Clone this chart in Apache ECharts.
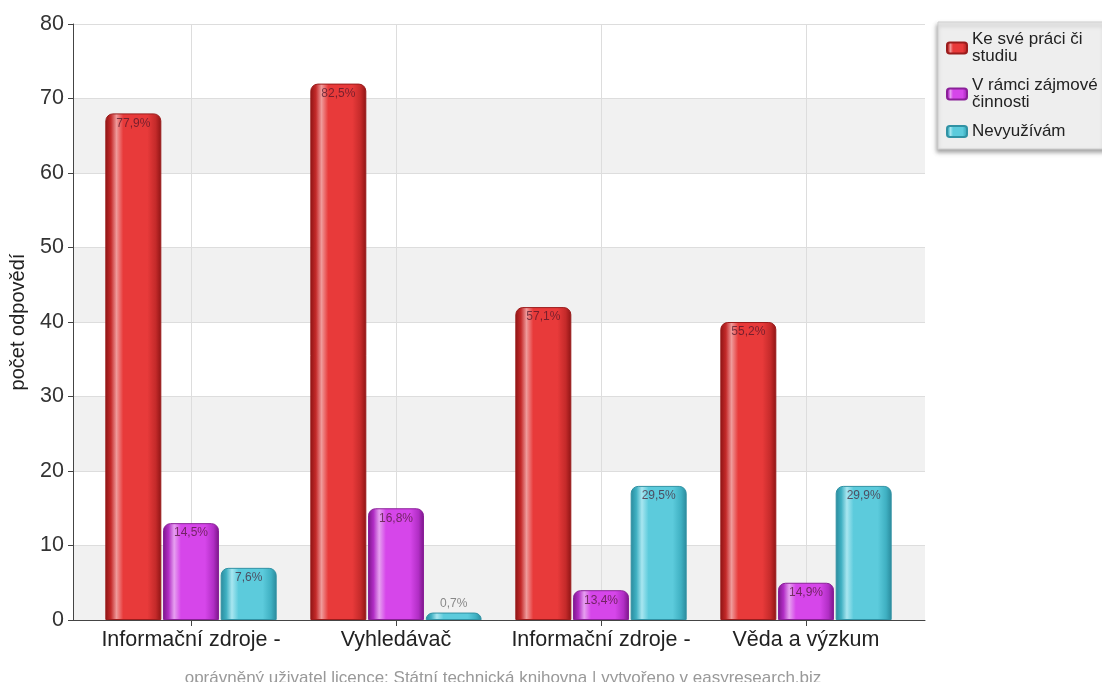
<!DOCTYPE html>
<html>
<head>
<meta charset="utf-8">
<script src="https://cdn.jsdelivr.net/npm/echarts@6/dist/echarts.min.js"></script>
<style>
  html, body { margin: 0; padding: 0; background: #fff; }
  #chart { width: 1102px; height: 682px; }
</style>
</head>
<body>
<div id="chart"></div>
<script>
  // hodnoty
  var categories = ['Informační zdroje -', 'Vyhledávač', 'Informační zdroje -', 'Věda a výzkum']
  var seriesNames = ['Ke své práci či studiu', 'V rámci zájmové činnosti', 'Nevyužívám']
  var valuesWork = [68, 72, 42, 40]
  var valuesHobby = [13, 15, 4, 5]
  var valuesNone = [7, 1, 18, 18]
  var pctWork = [77.9, 82.5, 57.1, 55.2]
  var pctHobby = [14.5, 16.8, 13.4, 14.9]
  var pctNone = [7.6, 0.7, 29.5, 29.9]
  var yTicks = [0, 10, 20, 30, 40, 50, 60, 70, 80]

  var font = 'Liberation Sans, Arial, sans-serif'

  function cylinder (edge, light, main, mid) {
    return new echarts.graphic.LinearGradient(0, 0, 1, 0, [
      {offset: 0, color: edge},
      {offset: 0.1, color: mid},
      {offset: 0.2, color: light},
      {offset: 0.32, color: main},
      {offset: 0.75, color: main},
      {offset: 0.9, color: mid},
      {offset: 1, color: edge}
    ])
  }

  var styles = [
    cylinder('#8e1414', '#ef9a9a', '#e83a3a', '#c42a2a'),
    cylinder('#7a1688', '#e6a0f0', '#d646ea', '#b22ec6'),
    cylinder('#2a8a9c', '#a8e6f0', '#5ccbdc', '#3fb0c2')
  ]
  var borders = ['#9a1c1c', '#8a2098', '#3192a4']

  function buildData (values, pcts) {
    return values.map(function (v, i) {
      var item = {value: v, pct: pcts[i]}
      if (v < 3) {
        item.label = {position: 'top', distance: 3, color: '#888'}
      }
      return item
    })
  }

  function barSeries (idx, values, pcts) {
    return {
      name: seriesNames[idx],
      type: 'bar',
      xAxisIndex: 1,
      yAxisIndex: 1,
      barWidth: 56,
      barGap: '3%',
      z: 3,
      itemStyle: {
        color: styles[idx],
        borderColor: borders[idx],
        borderWidth: 1,
        borderRadius: [7, 7, 0, 0]
      },
      label: {
        show: true,
        position: 'insideTop',
        distance: 4,
        fontFamily: font,
        fontSize: 12,
        color: 'rgba(70,20,40,0.7)',
        formatter: function (p) {
          return p.data.pct.toFixed(1).replace('.', ',') + '%'
        }
      },
      data: buildData(values, pcts)
    }
  }

  var chart = echarts.init(document.getElementById('chart'))
  var option = {
    animation: false,
    backgroundColor: '#fff',
    title: {
      text: 'oprávněný uživatel licence: Státní technická knihovna | vytvořeno v easyresearch.biz',
      left: 498,
      textAlign: 'center',
      top: 665,
      textStyle: {fontFamily: font, fontSize: 17, fontWeight: 'normal', color: '#999'}
    },
    legend: {
      orient: 'vertical',
      left: 938,
      top: 22,
      padding: [9, 8, 9, 8],
      itemWidth: 20,
      itemHeight: 11,
      itemGap: 12,
      backgroundColor: '#eeeeee',
      borderColor: '#cfcfcf',
      borderWidth: 1,
      shadowColor: 'rgba(0,0,0,0.35)',
      shadowBlur: 4,
      shadowOffsetX: -1,
      shadowOffsetY: 3,
      textStyle: {
        fontFamily: font,
        fontSize: 17,
        color: '#222',
        lineHeight: 17
      },
      formatter: function (name) {
        // dlouhé názvy zalomit před posledním slovem
        if (name.length < 13) return name
        var k = name.lastIndexOf(' ')
        return name.slice(0, k) + '\n' + name.slice(k + 1)
      },
      data: seriesNames
    },
    grid: [
      {left: 71, right: 177, top: 24, bottom: 62},
      {left: 88.5, right: 193.5, top: 24, bottom: 62},
      {left: 191, right: 296, top: 24, bottom: 62}
    ],
    xAxis: [
      {
        gridIndex: 0,
        type: 'category',
        data: [''],
        axisLine: {lineStyle: {color: '#444', width: 1}},
        axisTick: {show: false},
        axisLabel: {show: false},
        splitLine: {show: false},
        z: 4
      },
      {
        gridIndex: 1,
        type: 'category',
        data: categories,
        show: false
      },
      {
        gridIndex: 2,
        type: 'category',
        data: categories,
        boundaryGap: false,
        axisLine: {show: false},
        axisTick: {show: true, length: 6, lineStyle: {color: '#444'}},
        axisLabel: {fontFamily: font, fontSize: 21.5, color: '#222', margin: 9, interval: 0},
        splitLine: {show: true, lineStyle: {color: '#dddddd'}},
        z: 1
      }
    ],
    yAxis: [
      {
        gridIndex: 0,
        type: 'value',
        min: yTicks[0],
        max: yTicks[yTicks.length - 1],
        interval: 10,
        name: 'počet odpovědí',
        nameLocation: 'middle',
        nameGap: 45,
        nameTextStyle: {fontFamily: font, fontSize: 20, color: '#222'},
        axisLine: {show: true, lineStyle: {color: '#444'}},
        axisTick: {show: true, length: 5, lineStyle: {color: '#444'}},
        axisLabel: {fontFamily: font, fontSize: 21.5, color: '#333', margin: 9},
        splitLine: {show: true, lineStyle: {color: '#dddddd'}},
        splitArea: {show: true, areaStyle: {color: ['#f1f1f1', '#ffffff']}},
        z: 0
      },
      {
        gridIndex: 1,
        type: 'value',
        min: yTicks[0],
        max: yTicks[yTicks.length - 1],
        show: false
      },
      {
        gridIndex: 2,
        type: 'value',
        min: yTicks[0],
        max: yTicks[yTicks.length - 1],
        show: false
      }
    ],
    series: [
      barSeries(0, valuesWork, pctWork),
      barSeries(1, valuesHobby, pctHobby),
      barSeries(2, valuesNone, pctNone)
    ]
  }
  chart.setOption(option)
</script>
</body>
</html>
